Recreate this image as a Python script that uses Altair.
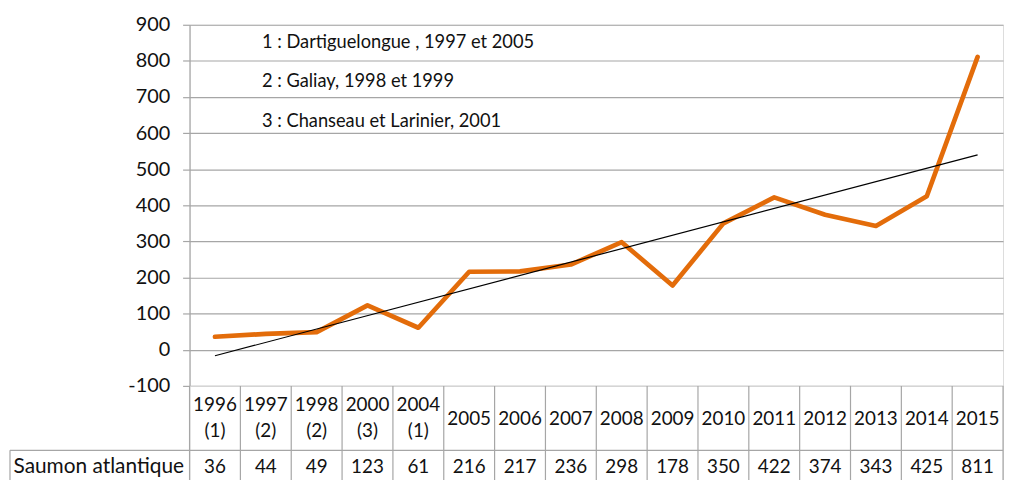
import altair as alt
import pandas as pd

# ---- data ----
years = ["1996", "1997", "1998", "2000", "2004", "2005", "2006", "2007",
         "2008", "2009", "2010", "2011", "2012", "2013", "2014", "2015"]
sources = ["(1)", "(2)", "(2)", "(3)", "(1)", "", "", "", "", "", "", "", "", "", "", ""]
values = [36, 44, 49, 123, 61, 216, 217, 236, 298, 178, 350, 422, 374, 343, 425, 811]
series_name = "Saumon atlantique"
notes = ["1 : Dartiguelongue , 1997 et 2005",
         "2 : Galiay, 1998 et 1999",
         "3 : Chanseau et Larinier, 2001"]
y_ticks = list(range(-100, 1000, 100))

# ---- styling ----
FONT = "Lato"
TEXT = "#111111"
GRID = "#a6a6a6"
ORANGE = "#E36C0A"
W = 820          # plot width
H = 364          # plot height
LABEL_W = 181    # width of the table's label column
HDR = 65         # header row height
ROW = 30         # value row height
NUM_FS = 19
LINE_H = 27

df = pd.DataFrame({"idx": list(range(len(years))), "year": years,
                   "source": sources, "value": values})
bounds_df = pd.DataFrame({"bx": [i - 0.5 for i in range(len(years) + 1)]})
one = pd.DataFrame({"k": [0]})

xscale = alt.Scale(domain=[-0.5, len(years) - 0.5], nice=False, zero=False)
yscale = alt.Scale(domain=[-100, 900], nice=False, zero=False)

X = alt.X("idx:Q", scale=xscale, axis=None)
Y = alt.Y("value:Q", scale=yscale, title=None,
          axis=alt.Axis(values=y_ticks, grid=True, gridColor=GRID, gridWidth=1.2,
                        domainColor=GRID, domainWidth=1.2, tickColor=GRID, tickWidth=1.2,
                        tickSize=7, labelPadding=13, labelFontSize=20, labelColor=TEXT,
                        labelFont=FONT, labelExpr="datum.value + ''"))

line = alt.Chart(df).mark_line(color=ORANGE, strokeWidth=4.7, strokeJoin="round",
                               strokeCap="round").encode(x=X, y=Y)
trend = alt.Chart(df).transform_regression("idx", "value").mark_line(
    color="black", strokeWidth=1.2).encode(x=X, y=Y)
note_txt = alt.Chart(pd.DataFrame({"note": ["\n".join(notes)]})).mark_text(
    align="left", baseline="middle", lineBreak="\n", lineHeight=40,
    fontSize=18.4, font=FONT, color=TEXT).encode(
    text="note:N", x=alt.value(73), y=alt.value(17))

top = alt.layer(line, trend, note_txt).properties(width=W, height=H)

# ---- data table under the chart ----
TB = HDR + ROW
vlines = alt.Chart(bounds_df).mark_rule(color=GRID, strokeWidth=1.2).encode(
    x=alt.X("bx:Q", scale=xscale, axis=None), y=alt.value(0), y2=alt.value(TB))
hline = alt.Chart(one).mark_rule(color=GRID, strokeWidth=1.2).encode(
    x=alt.value(-LABEL_W), x2=alt.value(W), y=alt.value(HDR))
lborder = alt.Chart(one).mark_rule(color=GRID, strokeWidth=1.2).encode(
    x=alt.value(-LABEL_W), y=alt.value(HDR), y2=alt.value(TB))

txt = dict(baseline="middle", fontSize=NUM_FS, font=FONT, color=TEXT)
year_two = alt.Chart(df).transform_filter("datum.source != ''").mark_text(**txt).encode(
    x=X, y=alt.value(HDR / 2 - LINE_H / 2), text="year:N")
src_two = alt.Chart(df).transform_filter("datum.source != ''").mark_text(**txt).encode(
    x=X, y=alt.value(HDR / 2 + LINE_H / 2), text="source:N")
year_one = alt.Chart(df).transform_filter("datum.source == ''").mark_text(**txt).encode(
    x=X, y=alt.value(HDR / 2 + 1), text="year:N")
val_txt = alt.Chart(df).mark_text(**txt).encode(
    x=X, y=alt.value(HDR + ROW / 2 + 2), text="value:Q")
name_txt = alt.Chart(pd.DataFrame({"name": [series_name]})).mark_text(
    baseline="middle", fontSize=21, font=FONT, color=TEXT).encode(
    x=alt.value(-LABEL_W / 2 - 1), y=alt.value(HDR + ROW / 2 + 2), text="name:N")

bottom = alt.layer(vlines, hline, lborder, year_two, src_two, year_one,
                   val_txt, name_txt).properties(width=W, height=TB)

chart = alt.vconcat(top, bottom, spacing=0, bounds="flush").properties(
    padding={"left": 0, "top": 4, "right": 2, "bottom": 0}
).configure_view(stroke=None).configure(background="white")

chart.save("out.html", embed_options={"renderer": "svg", "actions": False})
